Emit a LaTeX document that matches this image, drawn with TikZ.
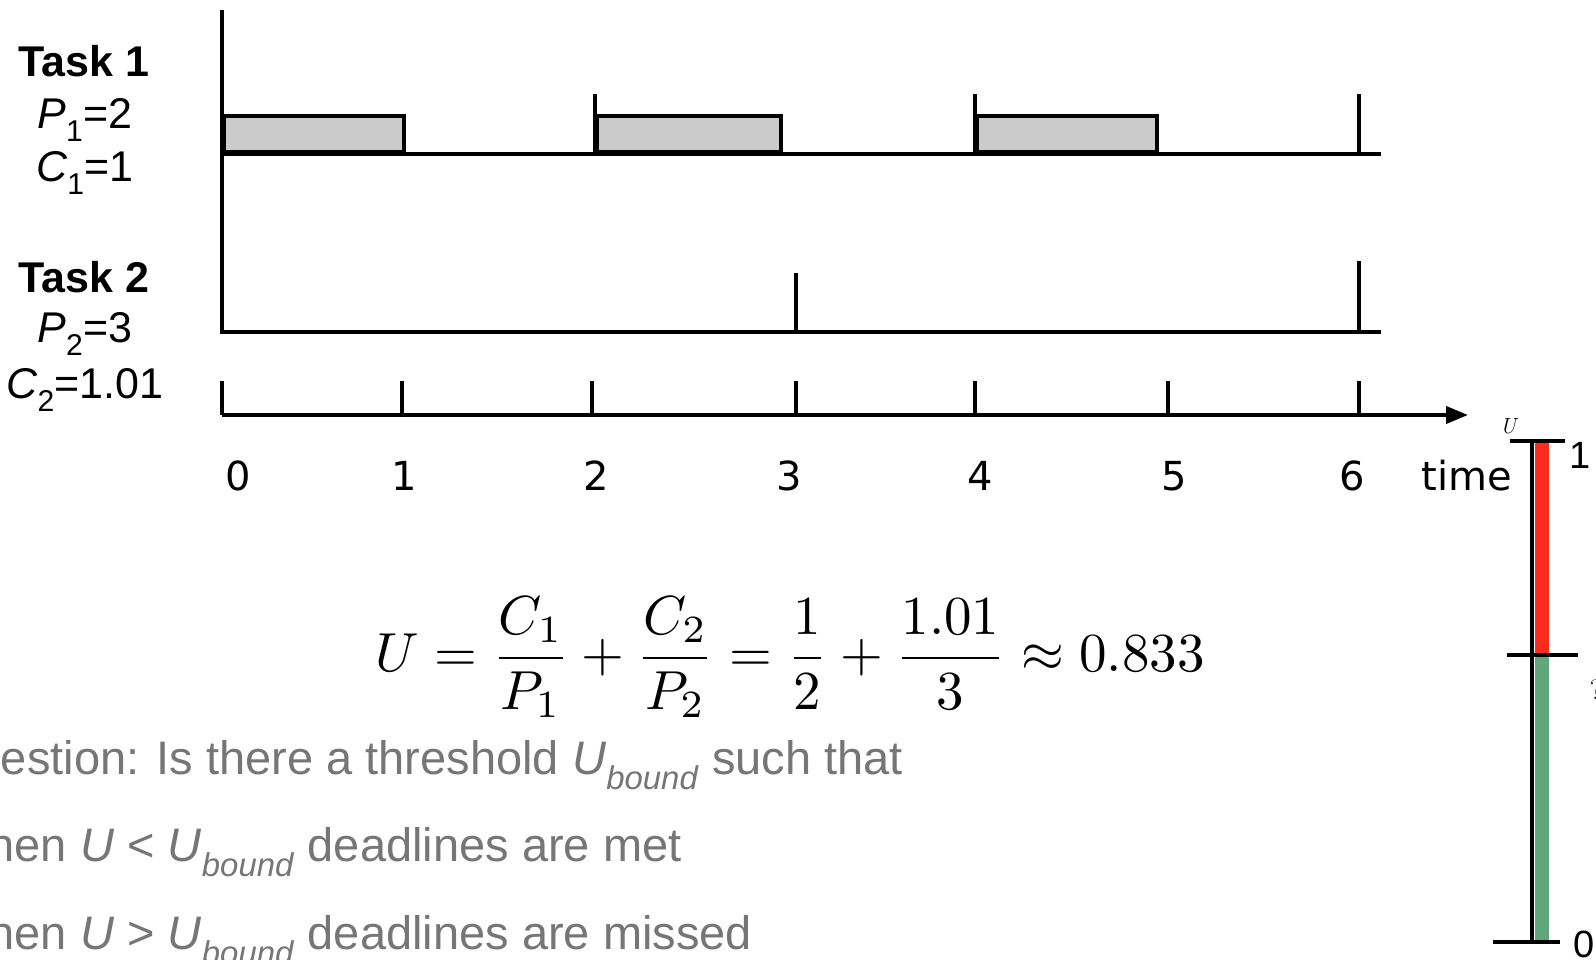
\documentclass[tikz,border=0pt]{standalone}
\usepackage{fontspec}
\usetikzlibrary{arrows.meta}
\newfontfamily\helv{Liberation Sans}
\newfontfamily\dejavu{DejaVu Sans}
\definecolor{boxgray}{HTML}{CBCBCB}
\definecolor{txtgray}{HTML}{767676}
\definecolor{barred}{HTML}{FF2A1E}
\definecolor{bargreen}{HTML}{5FA77A}
\tikzset{
  axisline/.style={line width=4pt},
  tickline/.style={line width=3.5pt},
  jobbox/.style={draw, line width=4pt, fill=boxgray},
  tasklabel/.style={font=\helv\fontsize{43}{50}\selectfont, inner sep=0pt},
  ticklabel/.style={font=\dejavu\fontsize{40}{48}\selectfont, inner sep=0pt},
  question/.style={font=\helv\fontsize{47}{54}\selectfont, text=txtgray, inner sep=0pt, anchor=base west},
  barlabel/.style={font=\helv\fontsize{38}{44}\selectfont, inner sep=0pt},
}
\begin{document}
\begin{tikzpicture}[x=1pt,y=-1pt]
\useasboundingbox (0,0) rectangle (1596,959);

% ---- left labels
\node[tasklabel] (t1) at (84,61) {\bfseries Task 1};
\node[tasklabel] (p1) at (85,120) {\itshape P\textsubscript{\upshape 1}\upshape =2};
\node[tasklabel] (c1) at (85,173) {\itshape C\textsubscript{\upshape 1}\upshape =1};
\node[tasklabel] (t2) at (84,277) {\bfseries Task 2};
\node[tasklabel] (p2) at (85,334) {\itshape P\textsubscript{\upshape 2}\upshape =3};
\node[tasklabel] (c2) at (85,390) {\itshape C\textsubscript{\upshape 2}\upshape =1.01};

% ---- task 1 jobs
\node[jobbox, minimum width=180pt, minimum height=36pt, anchor=south west, inner sep=0pt] (j1) at (222,154) {};
\node[jobbox, minimum width=184pt, minimum height=36pt, anchor=south west, inner sep=0pt] (j2) at (595,154) {};
\node[jobbox, minimum width=180pt, minimum height=36pt, anchor=south west, inner sep=0pt] (j3) at (975,154) {};

% ---- axes coordinates
\coordinate (vtop) at (222,10);
\coordinate (o2) at (222,332);
\coordinate (o1) at (222,154);
\coordinate (e1) at (1381,154);
\coordinate (e2) at (1381,332);

\draw[axisline] (vtop) -- (o2) -- (e2);
\draw[axisline] (o1) -- (e1);

% task 1 period marks
\coordinate (r1a) at (595,94);  \coordinate (r1b) at (595,154);
\coordinate (r2a) at (975,94);  \coordinate (r2b) at (975,154);
\coordinate (r3a) at (1359,94); \coordinate (r3b) at (1359,154);
\draw[tickline] (r1a) -- (r1b);
\draw[tickline] (r2a) -- (r2b);
\draw[tickline] (r3a) -- (r3b);

% task 2 period marks
\coordinate (s1a) at (796,273); \coordinate (s1b) at (796,332);
\coordinate (s2a) at (1359,261); \coordinate (s2b) at (1359,332);
\draw[tickline] (s1a) -- (s1b);
\draw[tickline] (s2a) -- (s2b);

% ---- time axis
\coordinate (ta) at (222,415);
\coordinate (tb) at (1468,415);
\draw[axisline, -{Triangle[length=22pt,width=17pt]}] (ta) -- (tb);
\foreach \x/\n in {222/0,402/1,592/2,796/3,975/4,1168/5,1359/6}{
  \coordinate (tk\n a) at (\x,381);
  \coordinate (tk\n b) at (\x,415);
  \draw[tickline] (tk\n a) -- (tk\n b);
}
\node[ticklabel] (l0) at (238,476) {0};
\node[ticklabel] (l1) at (404,476) {1};
\node[ticklabel] (l2) at (596,476) {2};
\node[ticklabel] (l3) at (789,476) {3};
\node[ticklabel] (l4) at (980,476) {4};
\node[ticklabel] (l5) at (1174,476) {5};
\node[ticklabel] (l6) at (1352,476) {6};
\node[ticklabel] (ltime) at (1467,476) {time};

% ---- formula
\node[inner sep=0pt] (formula) at (790,657) {\scalebox{5.5}{$\displaystyle U=\frac{C_1}{P_1}+\frac{C_2}{P_2}=\frac{1}{2}+\frac{1.01}{3}\approx 0.833$}};

% ---- question text
\node[question] (q1) at (-62,774) {Question: Is there a threshold \textit{U}\textsubscript{\textit{bound}} such that};
\node[question] (q2) at (-56,861) {When \textit{U} < \textit{U}\textsubscript{\textit{bound}} deadlines are met};
\node[question] (q3) at (-56,949) {When \textit{U} > \textit{U}\textsubscript{\textit{bound}} deadlines are missed};

% ---- utilization bar
\fill[barred] (1535,441) rectangle (1549,655);
\fill[bargreen] (1535,655) rectangle (1549,940);
\coordinate (bt) at (1532,441);
\coordinate (bb) at (1532,942);
\draw[axisline] (bt) -- (bb);
\coordinate (u1a) at (1510,441); \coordinate (u1b) at (1565,441);
\coordinate (uma) at (1507,655); \coordinate (umb) at (1578,655);
\coordinate (u0a) at (1493,942); \coordinate (u0b) at (1560,942);
\draw[axisline] (u1a) -- (u1b);
\draw[axisline] (uma) -- (umb);
\draw[axisline] (u0a) -- (u0b);
\node[inner sep=0pt, font=\fontsize{22}{24}\selectfont\itshape] (ulab) at (1508,426) {U};
\node[barlabel] (one) at (1580,455) {1};
\node[barlabel] (zero) at (1584,944) {0};
\node[barlabel, font=\fontsize{28}{32}\selectfont] (qm) at (1596,690) {?};
\end{tikzpicture}
\end{document}
